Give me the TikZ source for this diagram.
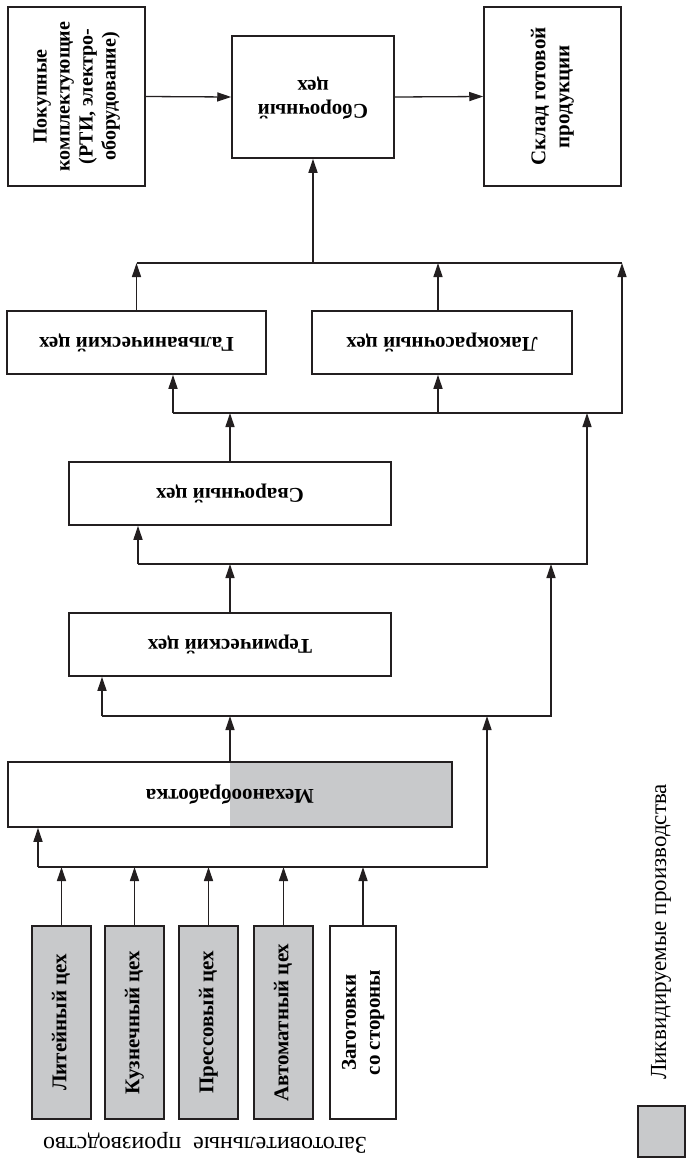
\documentclass[tikz,border=0pt]{standalone}
\usepackage{fontspec}
\setmainfont{Liberation Serif}
\usetikzlibrary{arrows.meta}
\definecolor{inkc}{RGB}{35,31,32}
\definecolor{liqgray}{RGB}{200,201,203}
\newcommand{\upside}[1]{\rotatebox{180}{\begin{tabular}{@{}c@{}}#1\end{tabular}}}
\newcommand{\sideup}[1]{\rotatebox{90}{\begin{tabular}{@{}c@{}}#1\end{tabular}}}
\begin{document}
\begin{tikzpicture}[x=1pt,y=-1pt,
  box/.style={draw=inkc, line width=1.5pt, fill=white, inner sep=0pt,
    font=\bfseries\fontsize{21}{24}\selectfont},
  liq/.style={box, fill=liqgray},
  flow/.style={draw=inkc, line width=1.3pt, -{Triangle[length=14pt,width=9pt]}},
  bus/.style={draw=inkc, line width=1.3pt}]
\useasboundingbox[fill=white] (0,0) rectangle (689,1160);

% top row
\node[box, minimum width=137, minimum height=179] (pok) at (76.5,96.5)
  {\fontsize{20}{23}\selectfont\sideup{Покупные\\комплектующие\\(РТИ, электро-\\оборудование)}};
\node[box, minimum width=162, minimum height=122] (sbor) at (313,97)
  {\upside{Сборочный\\цех}};
\node[box, minimum width=137, minimum height=179] (sklad) at (552.5,96.5)
  {\sideup{Склад готовой\\продукции}};

% finishing shops
\node[box, minimum width=259, minimum height=63] (galv) at (136.5,342.5)
  {\upside{Гальванический цех}};
\node[box, minimum width=260, minimum height=63] (lak) at (442,342.5)
  {\upside{Лакокрасочный цех}};

% welding, heat treatment, machining
\node[box, minimum width=322, minimum height=63] (svar) at (230,493.5)
  {\upside{Сварочный цех}};
\node[box, minimum width=322, minimum height=63] (term) at (230,644.5)
  {\upside{Термический цех}};
\node[box, minimum width=444, minimum height=65,
  path picture={\fill[liqgray] (path picture bounding box.south)
    rectangle (path picture bounding box.north east);}] (mech) at (230,794.5)
  {\upside{Механообработка}};

% blank production
\node[liq, minimum width=59, minimum height=193] (lit) at (61.5,1022.5)
  {\sideup{Литейный цех}};
\node[liq, minimum width=59, minimum height=193] (kuz) at (134.5,1022.5)
  {\sideup{Кузнечный цех}};
\node[liq, minimum width=59, minimum height=193] (press) at (208.5,1022.5)
  {\sideup{Прессовый цех}};
\node[liq, minimum width=59, minimum height=193] (avt) at (283.5,1022.5)
  {\sideup{Автоматный цех}};
\node[box, minimum width=66, minimum height=193] (zag) at (363,1022.5)
  {\sideup{Заготовки\\со стороны}};
\node[inner sep=0pt, font=\fontsize{24}{26}\selectfont] (cap) at (205,1143)
  {\rotatebox{180}{Заготовительные\ \ производство}};

% legend
\node[draw=inkc, line width=1.3pt, fill=liqgray, minimum width=47, minimum height=51,
  inner sep=0pt] (legbox) at (661.5,1131.5) {};
\node[inner sep=0pt, font=\fontsize{23}{25}\selectfont] (legtext) at (661,932)
  {\rotatebox{90}{Ликвидируемые производства}};

% bus junctions
\coordinate (b1R) at (622,263);
\coordinate (b2L) at (173,413);
\coordinate (b2R) at (622,413);
\coordinate (b3L) at (138,564);
\coordinate (b3R) at (587,564);
\coordinate (b4L) at (102,716);
\coordinate (b4R) at (551,716);
\coordinate (b5L) at (38,867);
\coordinate (b5R) at (487,867);

% top flows
\draw[flow] (pok.east) -- (sbor.west);
\draw[flow] (sbor.east) -- (sklad.west);

% bus 1 into assembly
\draw[bus] (galv.north |- b1R) -- (b1R);
\draw[flow] (sbor.south |- b1R) -- (sbor.south);
\draw[flow] (galv.north) -- (galv.north |- b1R);
\draw[flow] ([xshift=-4pt]lak.north) -- ([xshift=-4pt]lak.north |- b1R);

% bus 2
\draw[flow] (b2L) -- (b2R) -- (b1R);
\draw[flow] (b2L) -- (b2L |- galv.south);
\draw[flow] ([xshift=-4pt]lak.south |- b2R) -- ([xshift=-4pt]lak.south);
\draw[flow] (svar.north) -- (svar.north |- b2R);

% bus 3
\draw[flow] (b3L) -- (b3R) -- (b3R |- b2R);
\draw[flow] (b3L) -- (b3L |- svar.south);
\draw[flow] (term.north) -- (term.north |- b3R);

% bus 4
\draw[flow] (b4L) -- (b4R) -- (b4R |- b3R);
\draw[flow] (b4L) -- (b4L |- term.south);
\draw[flow] (mech.north) -- (mech.north |- b4R);

% bus 5
\draw[flow] (b5L) -- (b5R) -- (b5R |- b4R);
\draw[flow] (b5L) -- (b5L |- mech.south);
\foreach \n in {lit,kuz,press,avt,zag}
  \draw[flow] (\n.north) -- (\n.north |- b5R);
\end{tikzpicture}
\end{document}
